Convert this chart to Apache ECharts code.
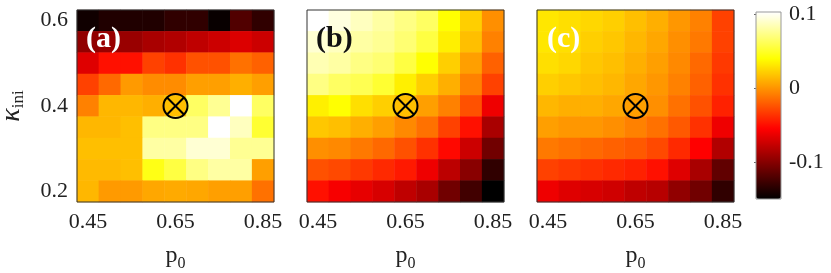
<!DOCTYPE html>
<html><head><meta charset="utf-8">
<script src="https://cdn.jsdelivr.net/npm/echarts@6/dist/echarts.min.js"></script>
<style>html,body{margin:0;padding:0;background:#fff}#c{width:831px;height:273px}</style>
</head><body><div id="c"></div>
<script>
// categories
const pCats = ['0.45','0.5','0.55','0.6','0.65','0.7','0.75','0.8','0.85'];
const kCats = ['0.2','0.25','0.3','0.35','0.4','0.45','0.5','0.55','0.6'];
const panelLabels = ['(a)','(b)','(c)'];
const cbTicks = [-0.1, 0, 0.1];
const cbMin = -0.15, cbMax = 0.103;
const markerP = '0.65', markerK = '0.4';

// rows listed from top (kappa = 0.6) to bottom (kappa = 0.2), columns p0 = 0.45 .. 0.85
const valuesA = [
  [-0.144,-0.138,-0.138,-0.138,-0.132,-0.132,-0.147,-0.120,-0.132],
  [-0.096,-0.093,-0.093,-0.087,-0.084,-0.079,-0.074,-0.068,-0.074],
  [-0.067,-0.049,-0.049,-0.031,-0.037,-0.025,-0.025,-0.013,-0.019],
  [-0.031,-0.016, 0.002,-0.003,-0.003, 0.004, 0.004, 0.010, 0.004],
  [-0.007, 0.013, 0.013, 0.010, 0.016, 0.064, 0.076, 0.103, 0.064],
  [ 0.013, 0.013, 0.016, 0.072, 0.072, 0.072, 0.103, 0.087, 0.052],
  [ 0.016, 0.016, 0.016, 0.080, 0.080, 0.092, 0.092, 0.076, 0.076],
  [ 0.014, 0.014, 0.016, 0.045, 0.056, 0.072, 0.080, 0.080, 0.004],
  [ 0.013, 0.002, 0.002, 0.007, 0.008, 0.007, 0.004, 0.004,-0.013]
];
const valuesB = [
  [ 0.103, 0.095, 0.087, 0.080, 0.072, 0.064, 0.040, 0.022,-0.002],
  [ 0.092, 0.087, 0.080, 0.076, 0.068, 0.056, 0.034, 0.016,-0.007],
  [ 0.084, 0.080, 0.072, 0.068, 0.056, 0.040, 0.022, 0.004,-0.019],
  [ 0.072, 0.064, 0.060, 0.052, 0.034, 0.022, 0.010,-0.007,-0.031],
  [ 0.034, 0.040, 0.028, 0.022, 0.016, 0.004,-0.007,-0.025,-0.061],
  [ 0.019, 0.016, 0.010, 0.004,-0.004,-0.013,-0.031,-0.049,-0.087],
  [-0.002,-0.004,-0.010,-0.016,-0.025,-0.037,-0.052,-0.074,-0.108],
  [-0.025,-0.028,-0.034,-0.040,-0.046,-0.061,-0.080,-0.099,-0.132],
  [-0.049,-0.058,-0.064,-0.070,-0.079,-0.087,-0.108,-0.126,-0.150]
];
const valuesC = [
  [ 0.031, 0.028, 0.025, 0.022, 0.016, 0.010, 0.001,-0.007,-0.031],
  [ 0.031, 0.028, 0.022, 0.019, 0.013, 0.007,-0.002,-0.010,-0.031],
  [ 0.028, 0.025, 0.019, 0.016, 0.010, 0.004,-0.004,-0.016,-0.034],
  [ 0.022, 0.019, 0.016, 0.013, 0.007, 0.001,-0.007,-0.019,-0.037],
  [ 0.013, 0.010, 0.010, 0.007, 0.004,-0.002,-0.013,-0.025,-0.043],
  [ 0.004, 0.001, 0.001,-0.002,-0.007,-0.013,-0.022,-0.037,-0.061],
  [-0.010,-0.013,-0.016,-0.019,-0.022,-0.028,-0.040,-0.055,-0.084],
  [-0.031,-0.034,-0.037,-0.040,-0.043,-0.049,-0.067,-0.087,-0.114],
  [-0.061,-0.067,-0.070,-0.073,-0.079,-0.082,-0.096,-0.108,-0.132]
];

const FONT = 'Liberation Serif, Times New Roman, serif';
const hot = ['#000000','#550000','#aa0000','#ff0000','#ff5500','#ffaa00','#ffff00','#ffff80','#ffffff'];

function toCells(rows){
  const out = [];
  rows.forEach((row, r) => row.forEach((v, c) => out.push([c, kCats.length - 1 - r, v])));
  return out;
}

const gridLefts = [77, 307, 537];
const grids = gridLefts.map(l => ({left:l, top:10, width:197, height:192, show:true, borderColor:'#333', borderWidth:1, z:10, outerBoundsMode:'none', containLabel:false}));
grids.push({left:756, top:12, width:25, height:187, show:true, borderColor:'#999', borderWidth:1, z:10, outerBoundsMode:'none', containLabel:false});

const labelStyle = {fontFamily:FONT, fontSize:22, color:'#222'};
const nameRich = {
  m:{fontFamily:FONT, fontSize:24, lineHeight:32, verticalAlign:'middle', color:'#222'},
  s:{fontFamily:FONT, fontSize:16, lineHeight:16, verticalAlign:'bottom', color:'#222'},
  k:{fontFamily:FONT, fontSize:28, fontStyle:'italic', lineHeight:30, verticalAlign:'middle', color:'#222'},
  si:{fontFamily:FONT, fontSize:17, lineHeight:17, verticalAlign:'bottom', color:'#222'}
};

const xAxes = [0,1,2].map(i => ({
  type:'category', gridIndex:i, data:pCats,
  axisLine:{show:false}, axisTick:{show:false},
  axisLabel:Object.assign({interval:3, margin:9}, labelStyle),
  name:'{m|p}{s|0}', nameLocation:'middle', nameGap:38,
  nameTextStyle:{rich:nameRich}
}));
xAxes.push({type:'value', gridIndex:3, show:false, min:0, max:1});

const yAxes = [0,1,2].map(i => ({
  type:'category', gridIndex:i, data:kCats,
  axisLine:{show:false}, axisTick:{show:false},
  axisLabel:Object.assign({interval:3, margin:9, show:i===0}, labelStyle),
  name: i===0 ? '{k|κ}{si|ini}' : '', nameLocation:'middle', nameGap:50, nameRotate:90,
  nameTextStyle:{rich:nameRich}
}));
yAxes.push({
  type:'value', gridIndex:3, min:cbMin, max:cbMax, position:'right',
  axisLine:{show:false}, splitLine:{show:false},
  axisTick:{show:true, inside:true, length:2, customValues:cbTicks, lineStyle:{color:'#666'}},
  axisLabel:Object.assign({customValues:cbTicks, margin:8, formatter:v => (Math.abs(v) < 1e-9 ? '0' : String(v))}, labelStyle)
});

const datasets = [valuesA, valuesB, valuesC];
const series = datasets.map((vals, i) => ({
  type:'heatmap', xAxisIndex:i, yAxisIndex:i, data:toCells(vals),
  itemStyle:{borderWidth:0}, emphasis:{disabled:true}, progressive:0
}));
[0,1,2].forEach(i => series.push({
  type:'custom', xAxisIndex:i, yAxisIndex:i, z:20,
  data:[[pCats.indexOf(markerP), kCats.indexOf(markerK)]],
  renderItem:function(params, api){
    const c = api.coord([api.value(0), api.value(1)]);
    const r = 12, d = r * 0.7071;
    return {type:'group', children:[
      {type:'circle', shape:{cx:c[0], cy:c[1], r:r}, style:{stroke:'#000', lineWidth:2, fill:null}},
      {type:'line', shape:{x1:c[0]-d, y1:c[1]-d, x2:c[0]+d, y2:c[1]+d}, style:{stroke:'#000', lineWidth:2}},
      {type:'line', shape:{x1:c[0]-d, y1:c[1]+d, x2:c[0]+d, y2:c[1]-d}, style:{stroke:'#000', lineWidth:2}}
    ]};
  }
}));

const labelColors = ['#fff','#111','#fff'];
const labelX = [86, 316, 547];
const graphic = panelLabels.map((t, i) => ({
  type:'text', left:labelX[i], top:24, z:30,
  style:{text:t, fontFamily:FONT, fontSize:30, fontWeight:'bold', fill:labelColors[i]}
}));

const chart = echarts.init(document.getElementById('c'));
chart.setOption({
  animation:false,
  grid:grids,
  xAxis:xAxes,
  yAxis:yAxes,
  visualMap:{
    type:'continuous', min:cbMin, max:cbMax, seriesIndex:[0,1,2],
    calculable:false, left:756, top:12, itemWidth:25, itemHeight:187, padding:0,
    inRange:{color:hot}, hoverLink:false
  },
  series:series,
  graphic:graphic
});
</script></body></html>
